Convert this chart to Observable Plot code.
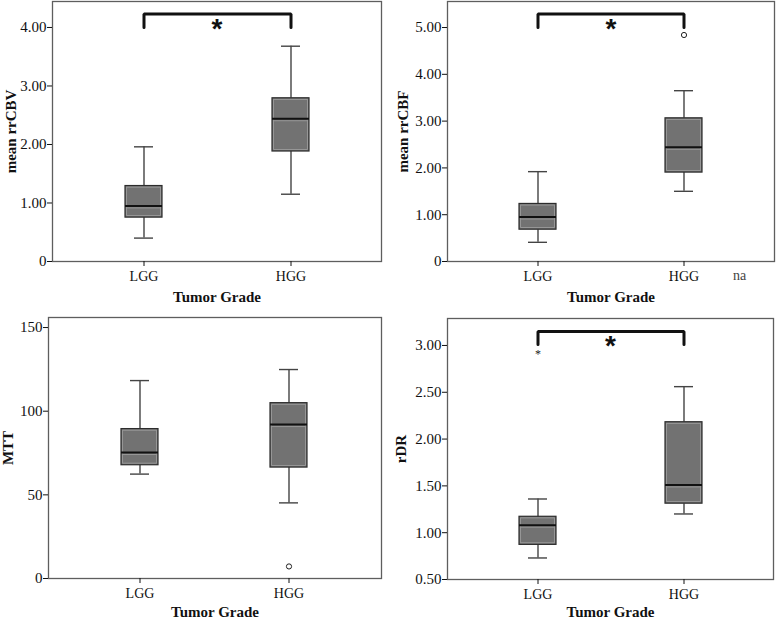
<!DOCTYPE html>
<html><head><meta charset="utf-8">
<script src="https://cdn.jsdelivr.net/npm/d3@7"></script>
<script src="https://cdn.jsdelivr.net/npm/@observablehq/plot@0.6"></script>
<style>
body{margin:0;background:#fff;}
#fig{position:relative;width:777px;height:623px;background:#fff;overflow:hidden;}
.panel{position:absolute;}
.panel svg{display:block;font-family:"Liberation Serif","Times New Roman",serif;color:#111;background:#fff;}
.panel [aria-label="y-axis tick label"]{font-size:15px;}
.panel [aria-label="x-axis tick label"]{font-size:14px;}
.panel [aria-label="y-axis label"],.panel [aria-label="x-axis label"]{font-size:15px;font-weight:bold;}
.na{position:absolute;left:733px;top:268px;font:14px "Liberation Serif",serif;color:#444;}
</style></head><body><div id="fig"></div>
<script>
// Categories
const grades = ["LGG", "HGG"];
// Box statistics per grade: [lower whisker, Q1, median, Q3, upper whisker]
const rrCBV = [[0.40, 0.75, 0.95, 1.29, 1.96], [1.15, 1.88, 2.44, 2.79, 3.68]];
const rrCBF = [[0.41, 0.68, 0.95, 1.23, 1.92], [1.50, 1.90, 2.44, 3.06, 3.65]];
const MTT   = [[62.4, 67.7, 75.3, 89.3, 118.3], [45.2, 66.3, 92.0, 104.8, 124.9]];
const rDR   = [[0.73, 0.87, 1.08, 1.17, 1.36], [1.20, 1.31, 1.51, 2.18, 2.56]];
// Outliers (circles) and extremes (asterisks)
const rrCBFOutliers = [{g: "HGG", v: 4.84}];
const MTTOutliers = [{g: "HGG", v: 7.2}];
const rDRExtremes = [{g: "LGG", v: 2.94}];
// Significance brackets: [foot, top]
const rrCBVBracket = [4.00, 4.23];
const rrCBFBracket = [5.00, 5.29];
const rDRBracket = [3.01, 3.15];
// Tick values
const rrCBVTicks = [0, 1, 2, 3, 4];
const rrCBFTicks = [0, 1, 2, 3, 4, 5];
const MTTTicks = [0, 50, 100, 150];
const rDRTicks = [0.5, 1, 1.5, 2, 2.5, 3];

const fmt2 = d => d === 0 ? "0" : d.toFixed(2);
const fmt0 = d => String(d);

function rows(stats) {
  return stats.map((s, i) => ({g: grades[i], lo: s[0], q1: s[1], med: s[2], q3: s[3], hi: s[4]}));
}

function panel(cfg) {
  const data = rows(cfg.stats);
  const whisk = {stroke: "#444", strokeWidth: 1.4};
  const marks = [
    Plot.frame({stroke: "#5e5e5e", strokeWidth: 1.3}),
    Plot.ruleX(data, {x: "g", y1: "q3", y2: "hi", ...whisk}),
    Plot.ruleX(data, {x: "g", y1: "lo", y2: "q1", ...whisk}),
    Plot.tickY(data, {x: "g", y: "hi", insetLeft: 9, insetRight: 9, ...whisk}),
    Plot.tickY(data, {x: "g", y: "lo", insetLeft: 9, insetRight: 9, ...whisk}),
    Plot.barY(data, {x: "g", y1: "q1", y2: "q3", fill: "#727272", stroke: "#2c2c2c", strokeWidth: 1.2}),
    Plot.barY(data, {x: "g", y1: "q1", y2: "q3", fill: "none", stroke: "#a0a0a0", strokeWidth: 0.8, inset: 1.6}),
    Plot.tickY(data, {x: "g", y: "med", stroke: "#111", strokeWidth: 2}),
    Plot.tickY(data, {x: "g", y: "med", stroke: "#a0a0a0", strokeWidth: 0.8, dy: 2, insetLeft: 1.6, insetRight: 1.6}),
    Plot.axisY({ticks: cfg.ticks, tickFormat: cfg.fmt, tickSize: 5, tickPadding: 1,
      label: cfg.label, labelAnchor: "center", labelOffset: cfg.labelOffsetY, labelArrow: "none"}),
    Plot.axisX({tickSize: 5, tickPadding: 5, label: "Tumor Grade", labelAnchor: "center",
      labelOffset: cfg.labelOffsetX, labelArrow: "none"})
  ];
  if (cfg.outliers) marks.push(Plot.dot(cfg.outliers, {x: "g", y: "v", r: 2.6, stroke: "#222", strokeWidth: 1, fill: "#fff"}));
  if (cfg.extremes) marks.push(Plot.text(cfg.extremes, {x: "g", y: "v", text: () => "*", fontSize: 12, dy: 3, fill: "#222"}));
  if (cfg.bracket) {
    const [foot, top] = cfg.bracket;
    const pts = [{g: grades[0], v: foot}, {g: grades[0], v: top}, {g: grades[1], v: top}, {g: grades[1], v: foot}];
    marks.push(Plot.line(pts, {x: "g", y: "v", stroke: "#111", strokeWidth: 3, strokeLinejoin: "miter"}));
    marks.push(Plot.text([{v: foot}], {y: "v", text: () => "*", fontSize: 28, fontWeight: "bold",
      fontFamily: "Liberation Sans", fill: "#111", dy: 2}));
  }
  return Plot.plot({
    width: cfg.width, height: cfg.height,
    marginLeft: cfg.m[3], marginTop: cfg.m[0], marginRight: cfg.m[1], marginBottom: cfg.m[2],
    x: {type: "band", domain: grades, paddingInner: 0.75, paddingOuter: 0.49},
    y: {domain: cfg.domain},
    marks
  });
}

const fig = document.getElementById("fig");
const panels = [
  {left: 0, top: 0, width: 390, height: 310, m: [1, 9, 49, 52], stats: rrCBV, domain: [0, 4.444],
   ticks: rrCBVTicks, fmt: fmt2, label: "mean rrCBV", labelOffsetY: 47, labelOffsetX: 40, bracket: rrCBVBracket},
  {left: 390, top: 0, width: 387, height: 310, m: [1, 3, 49, 57], stats: rrCBF, domain: [0, 5.556],
   ticks: rrCBFTicks, fmt: fmt2, label: "mean rrCBF", labelOffsetY: 50, labelOffsetX: 40,
   bracket: rrCBFBracket, outliers: rrCBFOutliers},
  {left: 0, top: 310, width: 390, height: 313, m: [7, 9, 45, 48], stats: MTT, domain: [0, 156],
   ticks: MTTTicks, fmt: fmt0, label: "MTT", labelOffsetY: 46, labelOffsetX: 38, outliers: MTTOutliers},
  {left: 390, top: 310, width: 387, height: 313, m: [8, 4, 44, 57], stats: rDR, domain: [0.5, 3.288],
   ticks: rDRTicks, fmt: fmt2, label: "rDR", labelOffsetY: 52, labelOffsetX: 37,
   bracket: rDRBracket, extremes: rDRExtremes}
];
for (const p of panels) {
  const div = document.createElement("div");
  div.className = "panel";
  div.style.left = p.left + "px";
  div.style.top = p.top + "px";
  div.appendChild(panel(p));
  fig.appendChild(div);
}
const na = document.createElement("div");
na.className = "na";
na.textContent = "na";
fig.appendChild(na);
</script>
</body></html>
